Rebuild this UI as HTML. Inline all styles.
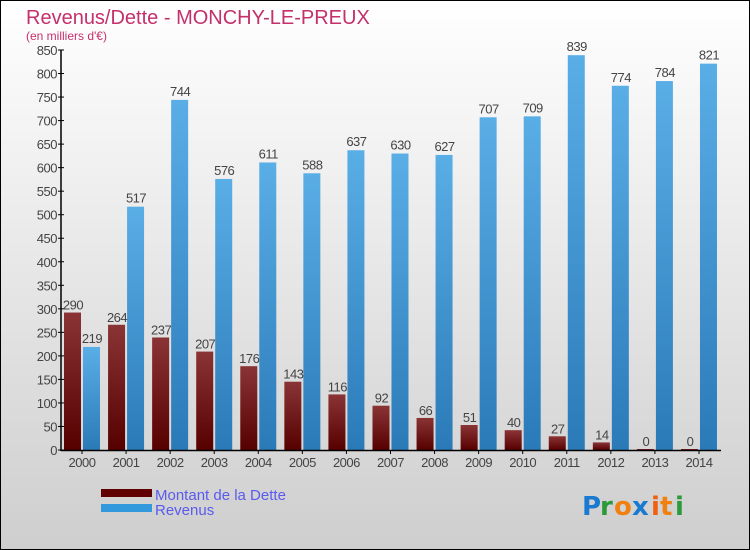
<!DOCTYPE html>
<html><head><meta charset="utf-8"><style>
body{margin:0;width:750px;height:550px;overflow:hidden;font-family:"Liberation Sans",sans-serif}
svg{display:block}
</style></head><body>
<svg width="750" height="550" xmlns="http://www.w3.org/2000/svg">
<defs>
<linearGradient id="bg" x1="0" y1="0" x2="0" y2="1"><stop offset="0" stop-color="#ffffff"/><stop offset="1" stop-color="#cecece"/></linearGradient>
<linearGradient id="gd" x1="0" y1="0" x2="0" y2="1"><stop offset="0" stop-color="#8a3436"/><stop offset="1" stop-color="#560000"/></linearGradient>
<linearGradient id="gr" x1="0" y1="0" x2="0" y2="1"><stop offset="0" stop-color="#5aaee6"/><stop offset="1" stop-color="#2a7ab8"/></linearGradient>
</defs>
<rect x="0.5" y="0.5" width="749" height="549" fill="url(#bg)" stroke="#000"/>
<text x="26" y="24" font-size="20" fill="#c4306a">Revenus/Dette - MONCHY-LE-PREUX</text>
<text x="26" y="40" font-size="12" fill="#c4306a">(en milliers d'€)</text>
<g id="plot"></g>
<g>
<rect x="101" y="489" width="51" height="8" fill="#600000"/>
<text x="155" y="500" font-size="15" fill="#5a5aee">Montant de la Dette</text>
<rect x="101" y="504" width="51" height="8" fill="#3399dd"/>
<text x="155" y="515" font-size="15" fill="#5a5aee">Revenus</text>
</g>
<g font-size="26" font-family="'DejaVu Sans',sans-serif" font-weight="bold">
<text x="582" y="515" fill="#1a7ad0">P</text><text x="600" y="515" fill="#2a9a3a">r</text><text x="614" y="515" fill="#f08010">o</text><text x="632" y="515" fill="#1a7ad0">x</text><text x="651" y="515" fill="#f06010">i</text><text x="660" y="515" fill="#f08010">t</text><text x="675" y="515" fill="#2a9a3a">i</text>
</g>
</svg>
<script>
const years=["2000","2001","2002","2003","2004","2005","2006","2007","2008","2009","2010","2011","2012","2013","2014"];
const dette=[290,264,237,207,176,143,116,92,66,51,40,27,14,0,0];
const revenus=[219,517,744,576,611,588,637,630,627,707,709,839,774,784,821];
const yTicks=[0,50,100,150,200,250,300,350,400,450,500,550,600,650,700,750,800,850];
const NS="http://www.w3.org/2000/svg";
const g=document.getElementById('plot');
const y0=450,yTop=50,yMax=850;
const y=v=>y0-(v/yMax)*(y0-yTop);
const x=i=>82+44.07*i;
function mk(t,a,txt){const e=document.createElementNS(NS,t);for(const k in a)e.setAttribute(k,a[k]);if(txt!=null)e.textContent=txt;g.appendChild(e);return e;}
yTicks.forEach(v=>{
 const t=mk('line',{x1:58,x2:64,y1:y(v),y2:y(v),stroke:'#000'});
 
 
 const l=mk('text',{x:57,y:y(v)+5,'font-size':13,fill:'#444','text-anchor':'end','letter-spacing':'-0.5'},v);
 
 
});
years.forEach((yr,i)=>{
 const cx=x(i);
 const d=mk('rect',{x:cx-18,y:y(dette[i])-1,width:17,height:Math.max(1,y0-y(dette[i])+1),fill:'url(#gd)'});
 
 
 const r=mk('rect',{x:cx+1,y:y(revenus[i]),width:17,height:y0-y(revenus[i]),fill:'url(#gr)'});
 
 
 const dl=mk('text',{x:cx-9,y:y(dette[i])-4,'font-size':13,fill:'#444','text-anchor':'middle','letter-spacing':'-0.5'},dette[i]);
 
 
 const rl=mk('text',{x:cx+10,y:y(revenus[i])-4,'font-size':13,fill:'#444','text-anchor':'middle','letter-spacing':'-0.5'},revenus[i]);
 
 
 const xl=mk('text',{x:cx,y:467,'font-size':13,fill:'#444','text-anchor':'middle','letter-spacing':'-0.5'},yr);
 
 
 const xt=mk('line',{x1:cx,x2:cx,y1:450,y2:454,stroke:'#000'});
 
 
});
const ya=mk('line',{x1:61,x2:61,y1:50,y2:451,stroke:'#000','stroke-width':1.5});


const xa=mk('line',{x1:61,x2:721,y1:450.5,y2:450.5,stroke:'#000','stroke-width':1.5});


</script>
</body></html>
